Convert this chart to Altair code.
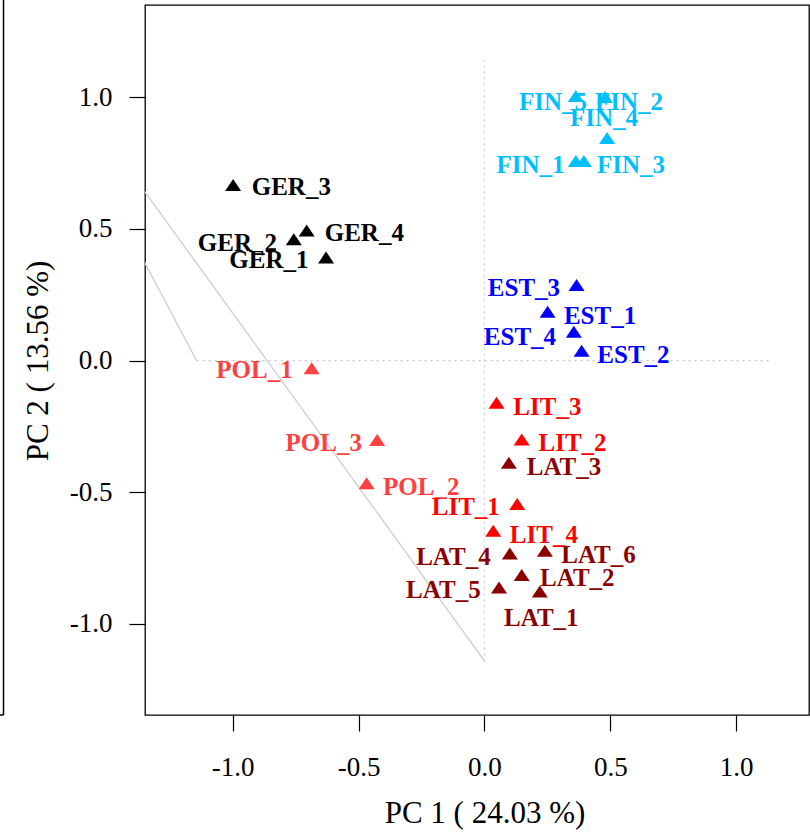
import altair as alt
import pandas as pd

# ---- data ----
names = ["GER_1", "GER_2", "GER_3", "GER_4",
         "POL_1", "POL_2", "POL_3",
         "FIN_1", "FIN_2", "FIN_3", "FIN_4", "FIN_5",
         "EST_1", "EST_2", "EST_3", "EST_4",
         "LIT_1", "LIT_2", "LIT_3", "LIT_4",
         "LAT_1", "LAT_2", "LAT_3", "LAT_4", "LAT_5", "LAT_6"]
groups = ["GER"] * 4 + ["POL"] * 3 + ["FIN"] * 5 + ["EST"] * 4 + ["LIT"] * 4 + ["LAT"] * 6
pc1 = [-0.629, -0.757, -0.998, -0.706,
       -0.686, -0.468, -0.426,
       0.363, 0.479, 0.395, 0.487, 0.363,
       0.251, 0.386, 0.366, 0.355,
       0.130, 0.148, 0.048, 0.035,
       0.220, 0.148, 0.097, 0.101, 0.058, 0.240]
pc2 = [0.384, 0.453, 0.659, 0.486,
       -0.037, -0.474, -0.309,
       0.750, 0.993, 0.750, 0.837, 0.997,
       0.178, 0.030, 0.279, 0.102,
       -0.552, -0.307, -0.168, -0.654,
       -0.885, -0.822, -0.396, -0.740, -0.869, -0.730]
# label centres (data units) as placed in the reference
lab_x = [-0.856, -0.981, -0.767, -0.477,
         -0.913, -0.251, -0.638,
         0.183, 0.574, 0.582, 0.475, 0.272,
         0.459, 0.592, 0.157, 0.141,
         -0.074, 0.350, 0.250, 0.236,
         0.226, 0.369, 0.316, -0.123, -0.163, 0.453]
lab_y = [0.382, 0.445, 0.658, 0.483,
         -0.036, -0.479, -0.312,
         0.742, 0.982, 0.742, 0.920, 0.982,
         0.170, 0.020, 0.275, 0.090,
         -0.555, -0.314, -0.175, -0.662,
         -0.979, -0.827, -0.405, -0.745, -0.871, -0.738]

group_order = ["GER", "POL", "FIN", "EST", "LIT", "LAT"]
group_colors = ["#000000", "#FF4040", "#00BFFF", "#0000FF", "#FF0000", "#8B0000"]

# guide lines (gray) and dotted reference axes
gline_id = ["a", "a", "b", "b"]
gline_x = [-1.45, 0.002, -1.45, -1.143]
gline_y = [0.775, -1.143, 0.554, 0.0]

ref_x = [0.0, -1.143]
ref_x2 = [0.0, 1.142]
ref_y = [-1.143, 0.0]
ref_y2 = [1.141, 0.0]

x_ticks = [-1.0, -0.5, 0.0, 0.5, 1.0]
y_ticks = [-1.0, -0.5, 0.0, 0.5, 1.0]

pts = pd.DataFrame({"name": names, "group": groups, "pc1": pc1, "pc2": pc2,
                    "lx": lab_x, "ly": lab_y})
glines = pd.DataFrame({"id": gline_id, "x": gline_x, "y": gline_y})
refs = pd.DataFrame({"x": ref_x, "x2": ref_x2, "y": ref_y, "y2": ref_y2})

SERIF = "Liberation Serif"
label_expr = "datum.value < 0 ? '-' + format(-datum.value, '.1f') : format(datum.value, '.1f')"

xscale = alt.Scale(domain=[-1.348, 1.289], nice=False, zero=False)
yscale = alt.Scale(domain=[-1.346, 1.350], nice=False, zero=False)

xaxis = alt.Axis(values=x_ticks, labelExpr=label_expr, title="PC 1 ( 24.03 %)",
                 titleX=339.5, titleY=98, titleBaseline="middle", titleAlign="center",
                 labelBaseline="middle", labelPadding=36, grid=False, domain=False,
                 tickSize=16, tickColor="black", tickWidth=1.2,
                 labelFont=SERIF, labelFontSize=27, labelColor="black",
                 titleFont=SERIF, titleFontSize=31, titleFontWeight="normal", titleColor="black")
yaxis = alt.Axis(values=y_ticks, labelExpr=label_expr, title="PC 2 ( 13.56 %)",
                 titleX=-107, titleY=355.5, titleBaseline="middle", titleAlign="center",
                 titleAngle=-90, labelAlign="right", labelBaseline="middle", labelPadding=17,
                 grid=False, domain=False,
                 tickSize=16, tickColor="black", tickWidth=1.2,
                 labelFont=SERIF, labelFontSize=27, labelColor="black",
                 titleFont=SERIF, titleFontSize=31, titleFontWeight="normal", titleColor="black")

color = alt.Color("group:N", scale=alt.Scale(domain=group_order, range=group_colors), legend=None)

ref_layer = alt.Chart(refs).mark_rule(color="#c8c8c8", strokeDash=[2, 4], strokeWidth=1.2).encode(
    x=alt.X("x:Q", scale=xscale, axis=xaxis),
    x2="x2:Q",
    y=alt.Y("y:Q", scale=yscale, axis=yaxis),
    y2="y2:Q",
)

gray_layer = alt.Chart(glines).mark_line(color="#d3d3d3", strokeWidth=1.5, clip=True).encode(
    x=alt.X("x:Q", scale=xscale),
    y=alt.Y("y:Q", scale=yscale),
    detail="id:N",
)

tri = "M0,-1L1,0.5L-1,0.5Z"
point_layer = alt.Chart(pts).mark_point(shape=tri, filled=True, size=256, opacity=1, strokeWidth=0).encode(
    x=alt.X("pc1:Q", scale=xscale),
    y=alt.Y("pc2:Q", scale=yscale),
    color=color,
)

text_layer = alt.Chart(pts).mark_text(font=SERIF, fontWeight="bold", fontSize=25,
                                      align="center", baseline="middle").encode(
    x=alt.X("lx:Q", scale=xscale),
    y=alt.Y("ly:Q", scale=yscale),
    text="name:N",
    color=color,
)

# edge of the neighbouring panel, visible at the far left
side_panel = alt.Chart(pd.DataFrame({"k": [0]})).mark_rule(color="black", strokeWidth=1.5, clip=False).encode(
    x=alt.value(-141.5), y=alt.value(-5), y2=alt.value(710)
)
side_stub = alt.Chart(pd.DataFrame({"k": [0]})).mark_rule(color="black", strokeWidth=1.5, clip=False).encode(
    x=alt.value(-145), x2=alt.value(-141.5), y=alt.value(710)
)

chart = alt.layer(ref_layer, gray_layer, point_layer, text_layer, side_panel, side_stub).properties(
    width=664, height=710,
    background="white",
    autosize=alt.AutoSizeParams(type="none"),
    padding={"left": 145, "top": 5, "right": 1, "bottom": 117},
).configure_view(
    stroke="black", strokeWidth=1.3, fill="white"
)

chart.save("out.html", embed_options={"renderer": "svg", "actions": False})
